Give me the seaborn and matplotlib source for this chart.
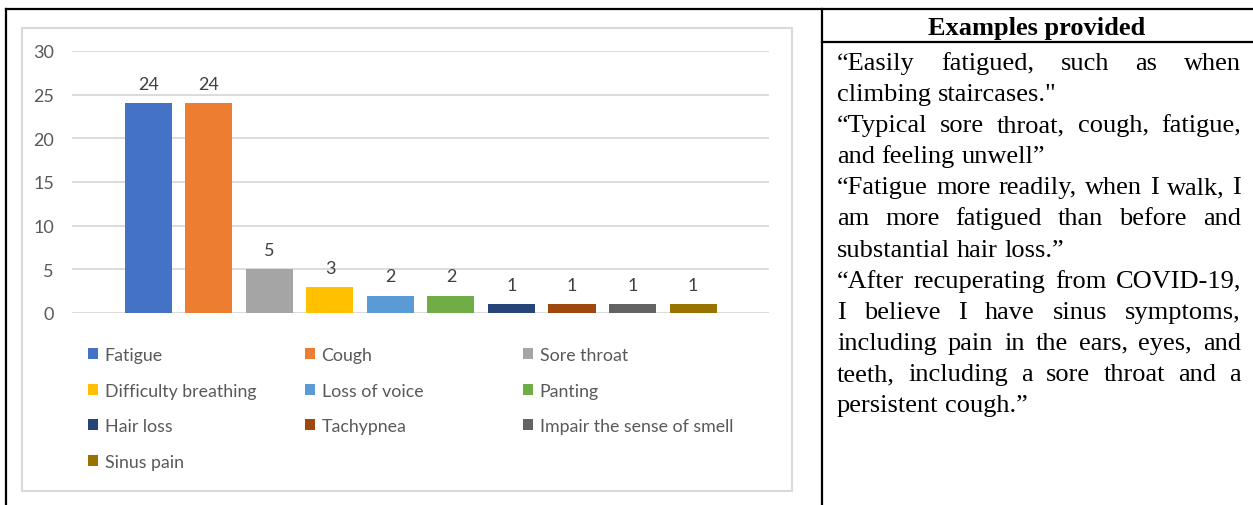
import matplotlib
matplotlib.use("Agg")
import matplotlib.pyplot as plt
import seaborn as sns
import pandas as pd
from matplotlib.patches import Patch, Rectangle
from matplotlib.lines import Line2D

# ---- data -------------------------------------------------------------
symptoms = ["Fatigue", "Cough", "Sore throat", "Difficulty breathing",
            "Loss of voice", "Panting", "Hair loss", "Tachypnea",
            "Impair the sense of smell", "Sinus pain"]
counts = [24, 24, 5, 3, 2, 2, 1, 1, 1, 1]
colors = ["#4472C4", "#ED7D31", "#A5A5A5", "#FFC000", "#5B9BD5",
          "#70AD47", "#264478", "#9E480E", "#636363", "#997300"]
y_ticks = [0, 5, 10, 15, 20, 25, 30]

header = "Examples provided"
quotes = [
    ["\u201cEasily fatigued, such as when",
     "climbing staircases.\""],
    ["\u201cTypical sore throat, cough, fatigue,",
     "and feeling unwell\u201d"],
    ["\u201cFatigue more readily, when I walk, I",
     "am more fatigued than before and",
     "substantial hair loss.\u201d"],
    ["\u201cAfter recuperating from COVID-19,",
     "I believe I have sinus symptoms,",
     "including pain in the ears, eyes, and",
     "teeth, including a sore throat and a",
     "persistent cough.\u201d"],
]

# ---- figure -------------------------------------------------------------
W, H = 1253, 506
sns.set_theme(style="white")
plt.rcParams["font.family"] = ["Lato", "DejaVu Sans"]

fig = plt.figure(figsize=(W / 100, H / 100), dpi=100)


def fx(x):
    return x / W


def fy(y):
    return 1 - y / H


# chart frame
fig.add_artist(Rectangle((fx(22), fy(492)), fx(792) - fx(22), (492 - 29) / H,
                         transform=fig.transFigure, facecolor="none",
                         edgecolor="#d9d9d9", lw=1.5))

ax = fig.add_axes([fx(72), fy(314), fx(769) - fx(72), fy(52) - fy(314)])
df = pd.DataFrame({"symptom": symptoms, "count": counts})
sns.barplot(data=df, x="symptom", y="count", hue="symptom", order=symptoms,
            hue_order=symptoms, palette=colors, saturation=1, width=0.777,
            dodge=False, legend=False, linewidth=0, ax=ax)

ax.set_xlim(-1.264, 10.256)
ax.set_ylim(0, 30)
ax.set_yticks(y_ticks)
ax.set_xticks([])
ax.set_xlabel("")
ax.set_ylabel("")
ax.yaxis.grid(True, color="#d9d9d9", lw=1.3)
ax.set_axisbelow(True)
for s in ax.spines.values():
    s.set_visible(False)
ax.tick_params(axis="y", length=0, pad=13, labelcolor="#595959", labelsize=13)

for cont in ax.containers:
    ax.bar_label(cont, padding=8, color="#404040", fontsize=13)

# legend in three columns, filled row by row
handles = [Patch(facecolor=c, edgecolor="none") for c in colors]
col_x = [88, 305, 523]
for ci, xpos in enumerate(col_x):
    idx = list(range(ci, len(symptoms), 3))
    fig.legend([handles[i] for i in idx], [symptoms[i] for i in idx],
               loc="upper left", bbox_to_anchor=(fx(xpos), fy(348)),
               bbox_transform=fig.transFigure, frameon=False, fontsize=12.8,
               labelcolor="#595959", handlelength=0.58, handleheight=0.58,
               handletextpad=0.35, borderpad=0, borderaxespad=0,
               labelspacing=1.1)

# ---- table rules ---------------------------------------------------------
lw = 1.6
for (x0, y0, x1, y1) in [(6, 10, 1253, 10), (6, 10, 6, 506),
                         (822, 10, 822, 506), (822, 43, 1253, 43)]:
    fig.add_artist(Line2D([fx(x0), fx(x1)], [fy(y0), fy(y1)],
                          transform=fig.transFigure, color="black", lw=lw,
                          solid_capstyle="projecting"))

# ---- text column ---------------------------------------------------------
serif = ["Liberation Serif", "DejaVu Serif"]
fig.text(fx(1037), fy(29), header, ha="center", va="center",
         family=serif, fontweight="bold", fontsize=19, color="black")

renderer = fig.canvas.get_renderer()
text_kw = dict(family=serif, fontsize=19, color="black")


def width_of(word):
    t = fig.text(0, 0, word, **text_kw)
    w = t.get_window_extent(renderer).width
    t.remove()
    return w


left, right = 837, 1241
space = width_of("a b") - width_of("ab")
line_no = 0
for para in quotes:
    for li, line in enumerate(para):
        baseline = 70 + line_no * 31.1
        words = line.split(" ")
        widths = [width_of(w) for w in words]
        last = li == len(para) - 1
        if last or len(words) == 1:
            gap = space
        else:
            gap = (right - left - sum(widths)) / (len(words) - 1)
        x = left
        for w, wd in zip(words, widths):
            fig.text(fx(x), fy(baseline), w, ha="left", va="baseline",
                     **text_kw)
            x += wd + gap
        line_no += 1

fig.savefig("out.png", dpi=100)
